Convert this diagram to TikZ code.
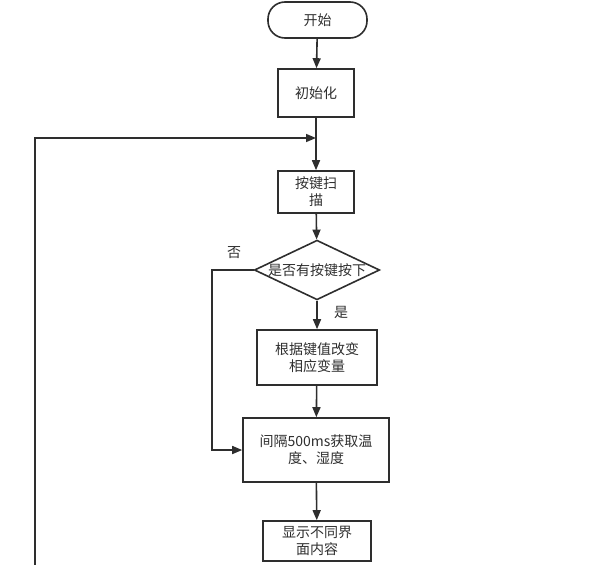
\documentclass[tikz,border=0pt]{standalone}
\usepackage{fontspec}
\setmainfont{Noto Sans CJK SC}
\usetikzlibrary{shapes.geometric,arrows.meta}
\definecolor{ink}{HTML}{2E2E2E}
\begin{document}
\begin{tikzpicture}[x=1pt,y=-1pt,
  every node/.style={text=ink,font=\fontsize{14}{17}\selectfont},
  boxnode/.style={draw=ink,line width=1.6pt,rectangle,inner sep=0pt,align=center},
  conn/.style={draw=ink,line width=1.6pt,-{Triangle[length=10pt,width=8pt]}},
  plain/.style={draw=ink,line width=1.6pt}]
\useasboundingbox (0,0) rectangle (592,565);
\node[boxnode,rounded corners=17pt,minimum width=99pt,minimum height=36pt] (start) at (317.5,20) {开始};
\node[boxnode,minimum width=76pt,minimum height=48pt] (init) at (316,93) {初始化};
\node[boxnode,minimum width=76pt,minimum height=42pt] (scan) at (316,192) {按键扫\\描};
\node[boxnode,shape=diamond,aspect=2.1,minimum width=119pt,minimum height=56pt] (dec) at (317,270) {是否有按键按下};
\node[boxnode,minimum width=120pt,minimum height=55pt] (adj) at (317,357.5) {根据键值改变\\相应变量};
\node[boxnode,minimum width=146pt,minimum height=64pt] (get) at (316,450) {间隔500ms获取温\\度、湿度};
\node[boxnode,minimum width=108pt,minimum height=40pt] (disp) at (317,541) {显示不同界\\面内容};
\node (no) at (234,253) {否};
\node (yes) at (341,312) {是};
\coordinate (join) at (316,138);
\coordinate (loopbot) at (35,565);
\coordinate (nocorner) at (212,270);
\draw[conn] (start) -- (init);
\draw[plain] (init) -- (join);
\draw[conn] (join) -- (scan);
\draw[conn] (loopbot) |- (join);
\draw[conn] (scan) -- (dec);
\draw[conn] (dec) -- (adj);
\draw[conn] (adj) -- (get);
\draw[conn] (get) -- (disp);
\draw[conn] (dec.west) -- (nocorner) |- (get.west);
\end{tikzpicture}
\end{document}
